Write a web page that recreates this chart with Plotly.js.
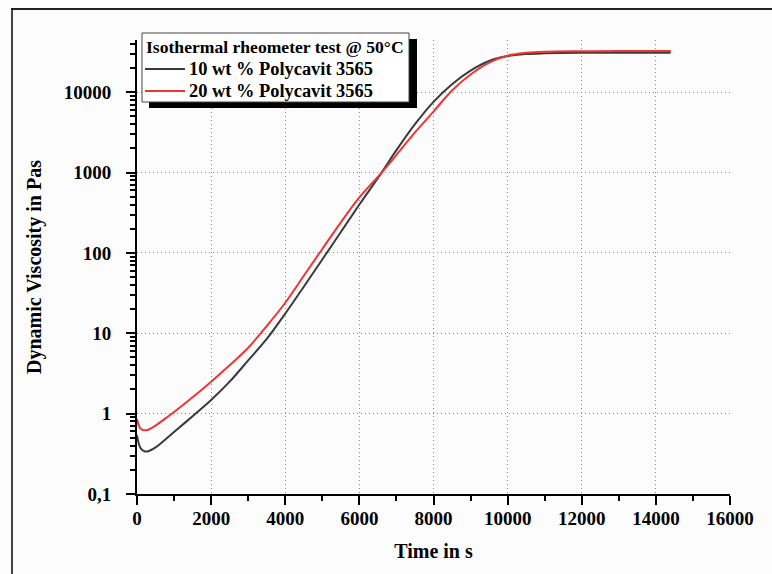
<!DOCTYPE html>
<html>
<head>
<meta charset="utf-8">
<script src="https://cdn.plot.ly/plotly-3.0.1.min.js"></script>
<style>html,body{margin:0;padding:0;background:#fcfcfc;}#chart{width:772px;height:574px;}</style>
</head>
<body>
<div id="chart"></div>
<script>
// ---- data ----
const timeS = [0, 50, 100, 200, 300, 500, 750, 1000, 1500, 2000, 2500, 3000, 3500, 4000, 4500, 5000, 5500, 6000, 6600, 7000, 7500, 8000, 8500, 9000, 9500, 10000, 10500, 11000, 12000, 13000, 14400];
const visc10 = [0.54, 0.42, 0.37, 0.34, 0.34, 0.38, 0.47, 0.59, 0.93, 1.48, 2.5, 4.6, 8.5, 17.6, 38, 83, 182, 400, 1000, 1900, 4000, 7600, 12600, 18600, 24500, 28200, 29900, 30500, 30900, 30900, 30900];
const visc20 = [0.85, 0.71, 0.65, 0.62, 0.63, 0.71, 0.86, 1.05, 1.60, 2.5, 4.0, 6.6, 12.3, 24, 52, 112, 240, 490, 1000, 1660, 3160, 5750, 10500, 16600, 23400, 28500, 30900, 32000, 32400, 32500, 32500];
const seriesNames = ['10 wt % Polycavit 3565', '20 wt % Polycavit 3565'];
const seriesColors = ['#3a3a3a', '#f03434'];
const legendTitle = 'Isothermal rheometer test @ 50°C';
const yTickVals = [0.1, 1, 10, 100, 1000, 10000];
const yTickText = ['0,1', '1', '10', '100', '1000', '10000'];
const xTitle = 'Time in s';
const yTitle = 'Dynamic Viscosity in Pas';

// ---- layout helpers ----
const L = 137, R = 730, T = 40, B = 494, W = 772, H = 574;
const px = x => (x - L) / (R - L);
const py = y => (B - y) / (B - T);
const minorY = [];
for (let e = -1; e <= 4; e++) for (let d = 2; d <= 9; d++) minorY.push(d * Math.pow(10, e));

const font = {family: 'Liberation Serif, Times New Roman, serif', color: '#000', weight: 'bold'};
const f = s => Object.assign({size: s}, font);

const traces = [visc10, visc20].map((v, i) => ({
  x: timeS, y: v, name: seriesNames[i], type: 'scatter', mode: 'lines',
  line: {color: seriesColors[i], width: 2, shape: 'spline'}
}));

// manual legend box (title + sample lines + labels)
const legendRows = [69, 91];
const shapes = [
  {type: 'rect', xref: 'paper', yref: 'paper', x0: px(149), x1: px(417), y0: py(39), y1: py(108), fillcolor: '#000', line: {width: 0}, layer: 'above'},
  {type: 'rect', xref: 'paper', yref: 'paper', x0: px(142), x1: px(409), y0: py(33), y1: py(102), fillcolor: '#ffffff', line: {color: '#444', width: 1}, layer: 'above'},
  {type: 'line', xref: 'paper', yref: 'paper', x0: px(12), x1: px(12), y0: py(9), y1: py(576), line: {color: '#444', width: 2}},
  {type: 'line', xref: 'paper', yref: 'paper', x0: px(11), x1: px(774), y0: py(9), y1: py(9), line: {color: '#222', width: 2}}
];
const annotations = [
  {xref: 'paper', yref: 'paper', x: px(144), y: py(47), xanchor: 'left', yanchor: 'middle', text: legendTitle, showarrow: false, font: f(17.6)}
];
seriesNames.forEach((n, i) => {
  shapes.push({type: 'line', xref: 'paper', yref: 'paper', x0: px(145), x1: px(185), y0: py(legendRows[i]), y1: py(legendRows[i]), line: {color: seriesColors[i], width: 2}, layer: 'above'});
  annotations.push({xref: 'paper', yref: 'paper', x: px(187), y: py(legendRows[i]), xanchor: 'left', yanchor: 'middle', text: n, showarrow: false, font: f(18.4)});
});

const layout = {
  width: W, height: H,
  margin: {l: L, r: W - R, t: T, b: H - B, pad: 0},
  paper_bgcolor: '#fcfcfc', plot_bgcolor: '#fcfcfc',
  showlegend: false,
  font: f(19),
  xaxis: {
    range: [0, 16000], dtick: 2000, tick0: 0, tickformat: 'd',
    showline: true, linecolor: '#000', linewidth: 2,
    ticks: 'outside', ticklen: 9, tickwidth: 2, tickcolor: '#000',
    tickfont: f(19), ticklabelstandoff: -3,
    showgrid: true, gridcolor: '#8a8a8a', griddash: '1px,3px', gridwidth: 1,
    zeroline: false,
    minor: {dtick: 1000, ticks: 'outside', ticklen: 5, tickwidth: 2, tickcolor: '#000', showgrid: false},
    title: {text: xTitle, font: f(20), standoff: 16}
  },
  yaxis: {
    type: 'log', range: [-1, 4.65],
    tickmode: 'array', tickvals: yTickVals, ticktext: yTickText,
    showline: true, linecolor: '#000', linewidth: 2,
    ticks: 'outside', ticklen: 9, tickwidth: 2, tickcolor: '#000',
    tickfont: f(19), ticklabelstandoff: 11,
    showgrid: true, gridcolor: '#8a8a8a', griddash: '1px,3px', gridwidth: 1,
    zeroline: false,
    minor: {tickmode: 'array', tickvals: minorY, ticks: 'outside', ticklen: 5, tickwidth: 2, tickcolor: '#000', showgrid: false},
    title: {text: yTitle, font: f(20), standoff: 17}
  },
  shapes: shapes,
  annotations: annotations
};

Plotly.newPlot('chart', traces, layout, {staticPlot: true});
</script>
</body>
</html>
